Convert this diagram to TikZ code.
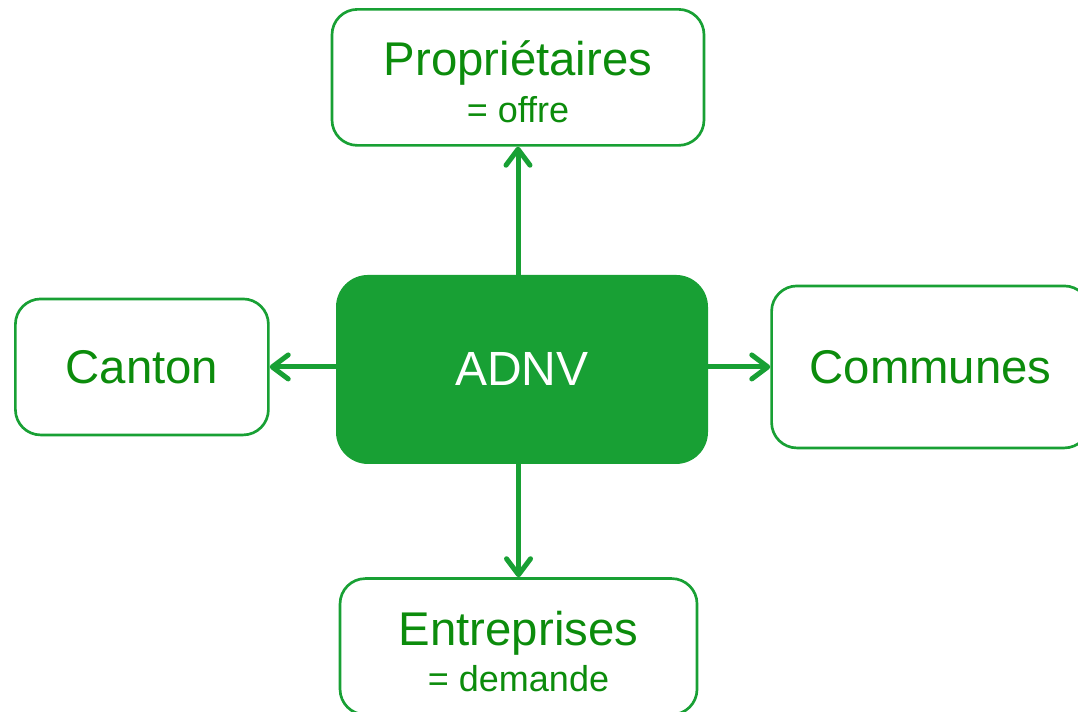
\documentclass[tikz,border=0pt]{standalone}
\usepackage{fontspec}
\setmainfont{Liberation Sans}
\usetikzlibrary{arrows.meta,positioning}
\definecolor{adnvgreen}{RGB}{24,160,52}
\definecolor{textgreen}{RGB}{12,140,12}

\begin{document}
\begin{tikzpicture}[
    box/.style={draw=adnvgreen,line width=2pt,rounded corners=19pt,fill=white,
        text=textgreen,align=center,inner sep=0pt,
        font=\fontsize{35.5}{35}\selectfont,minimum height=102pt},
    hub/.style={fill=adnvgreen,rounded corners=24pt,text=white,inner sep=0pt,
        font=\fontsize{36}{36}\selectfont,minimum width=279pt,minimum height=141.75pt},
    link/.style={draw=adnvgreen,line width=3.75pt,-{Straight Barb[length=12pt,width=18pt,round]}},
]
    \useasboundingbox (0,0) rectangle (808.5pt,-533.25pt);
    \node[hub] (adnv) at (391.5pt,-277.1pt) {ADNV};
    \node[box,minimum width=279pt,above=96pt of adnv,xshift=-3pt] (prop)
        {\rule{0pt}{33pt}Propriétaires\\{\fontsize{27}{35}\selectfont = offre}};
    \node[box,minimum width=189.75pt,left=49.5pt of adnv,yshift=1.9pt] (canton) {Canton};
    \node[box,minimum width=238.5pt,minimum height=121.5pt,right=46.5pt of adnv,yshift=1.9pt] (comm) {Communes};
    \node[box,minimum width=267.75pt,below=84.75pt of adnv,xshift=-2.6pt] (entr)
        {\rule{0pt}{33pt}Entreprises\\{\fontsize{27}{35}\selectfont = demande}};

    \draw[link] (adnv.north -| prop.south) -- (prop.south);
    \draw[link] (adnv.south -| entr.north) -- (entr.north);
    \draw[link] (adnv.west |- canton.east) -- (canton.east);
    \draw[link] (adnv.east |- comm.west) -- (comm.west);
\end{tikzpicture}
\end{document}
